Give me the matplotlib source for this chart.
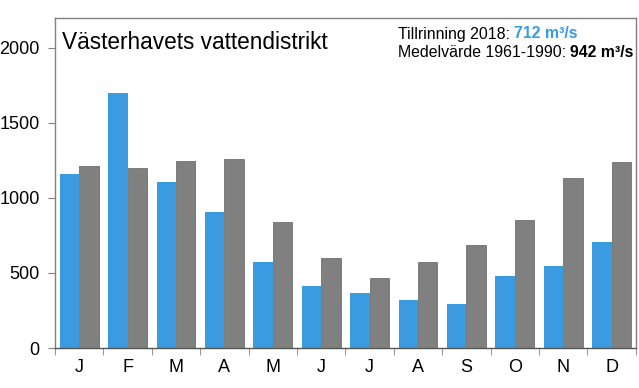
import numpy as np
import matplotlib.pyplot as plt

plt.rcParams['font.family'] = ['Liberation Sans', 'DejaVu Sans']

months = ['J', 'F', 'M', 'A', 'M', 'J', 'J', 'A', 'S', 'O', 'N', 'D']
flow_2018 = [1160, 1700, 1105, 905, 571, 413, 369, 318, 295, 478, 547, 707]
mean_6190 = [1215, 1198, 1249, 1258, 838, 602, 467, 571, 684, 851, 1135, 1242]

blue = '#3b9be0'
grey = '#808080'

fig = plt.figure(figsize=(6.39, 3.88), dpi=100)
ax = fig.add_axes([0.086, 0.103, 0.909, 0.851])

x = np.arange(len(months))
w = 0.4
ax.bar(x - w / 2, flow_2018, w, color=blue, zorder=2)
ax.bar(x + w / 2, mean_6190, w, color=grey, edgecolor='#707070', linewidth=0.6, zorder=2)

ax.set_xlim(-0.5, len(months) - 0.5)
ax.set_ylim(0, 2200)
ax.set_yticks([0, 500, 1000, 1500, 2000])

# month labels centred, ticks on group boundaries
ax.set_xticks(x)
ax.set_xticklabels(months)
ax.tick_params(axis='x', which='major', length=0, labelsize=13, pad=8)
ax.set_xticks(np.arange(len(months) + 1) - 0.5, minor=True)
ax.tick_params(axis='x', which='minor', length=5, color='#808080', direction='out')
ax.tick_params(axis='y', labelsize=13, length=5, color='#808080', pad=6)

for s in ax.spines.values():
    s.set_color('#808080')
    s.set_linewidth(1.0)
ax.spines['bottom'].set_color('#555555')

ax.text(0.012, 0.907, 'Västerhavets vattendistrikt', transform=ax.transAxes,
        fontsize=16.3, va='baseline', ha='left')

fs = 11.4
t1 = fig.text(398 / 639, 1 - 38.5 / 388, 'Tillrinning 2018: ', fontsize=fs, va='baseline')
ax.annotate('712 m³/s', xy=(1, 0), xycoords=t1, va='bottom', ha='left',
            fontsize=fs, color=blue, fontweight='bold')
t2 = fig.text(398 / 639, 1 - 57 / 388, 'Medelvärde 1961-1990: ', fontsize=fs, va='baseline')
ax.annotate('942 m³/s', xy=(1, 0), xycoords=t2, va='bottom', ha='left',
            fontsize=fs, color='black', fontweight='bold')

fig.savefig('out.png', dpi=100)
